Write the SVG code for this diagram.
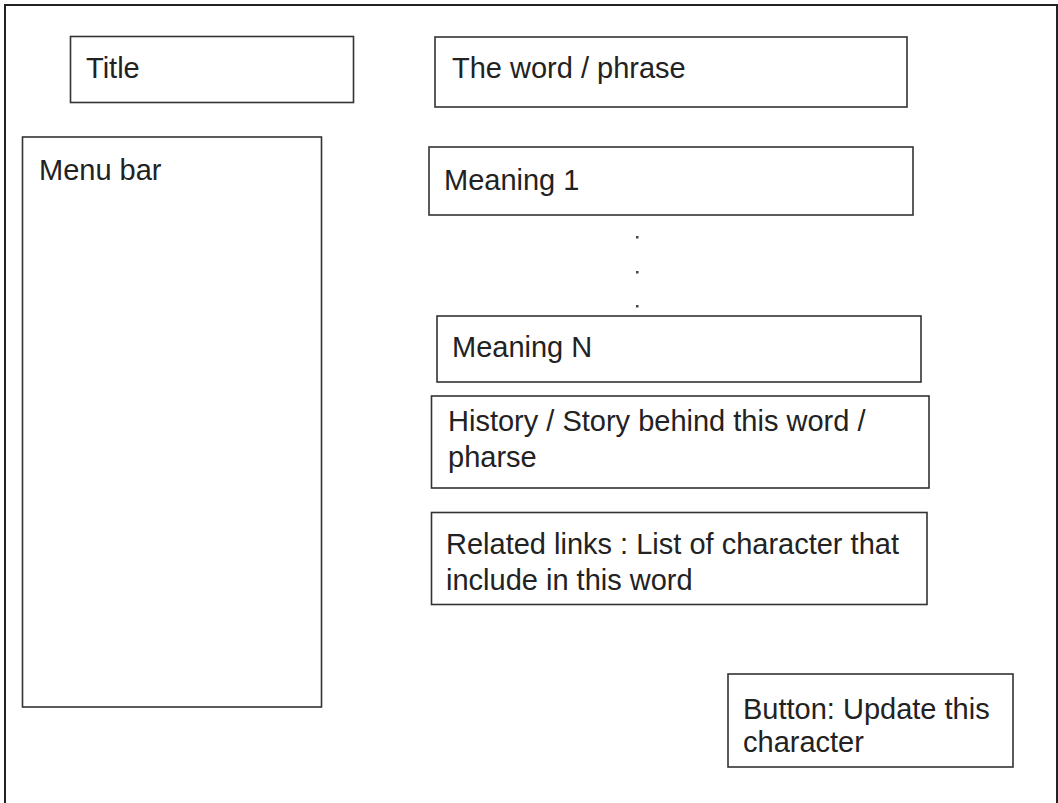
<svg xmlns="http://www.w3.org/2000/svg" width="1058" height="803" viewBox="0 0 1058 803">
<style>
.box{fill:#fff;stroke:#333;stroke-width:1.6}
.frame{fill:none;stroke:#222;stroke-width:2}
text{font-family:"Liberation Sans",Arial,sans-serif;font-size:29px;fill:#222}
.dot{fill:#444}
</style>
<rect width="1058" height="803" fill="#fff"/>
<rect class="frame" x="5" y="5" width="1052" height="830"/>
<g id="title"><rect class="box" x="70.5" y="36.5" width="283" height="66"/><text x="86" y="78">Title</text></g>
<g id="word"><rect class="box" x="435" y="37" width="472" height="70"/><text x="452" y="78">The word / phrase</text></g>
<g id="menu"><rect class="box" x="22.5" y="137" width="299" height="570"/><text x="39" y="180">Menu bar</text></g>
<g id="meaning1"><rect class="box" x="429" y="147" width="484" height="68"/><text x="444" y="190">Meaning 1</text></g>
<g id="dots"><rect class="dot" x="636" y="236" width="2.5" height="2.5"/><rect class="dot" x="636" y="271" width="2.5" height="2.5"/><rect class="dot" x="636" y="305" width="2.5" height="2.5"/></g>
<g id="meaningN"><rect class="box" x="437" y="316" width="484" height="66"/><text x="452" y="357">Meaning N</text></g>
<g id="history"><rect class="box" x="431.5" y="396" width="497.5" height="92"/><text x="448" y="431">History / Story behind this word /</text><text x="448" y="467">pharse</text></g>
<g id="related"><rect class="box" x="431.5" y="512.5" width="495.5" height="92"/><text x="446" y="554">Related links : List of character that</text><text x="446" y="590">include in this word</text></g>
<g id="button"><rect class="box" x="728" y="674" width="285" height="93"/><text x="743" y="719">Button: Update this</text><text x="743" y="752">character</text></g>
<g id="connectors"></g>
</svg>
